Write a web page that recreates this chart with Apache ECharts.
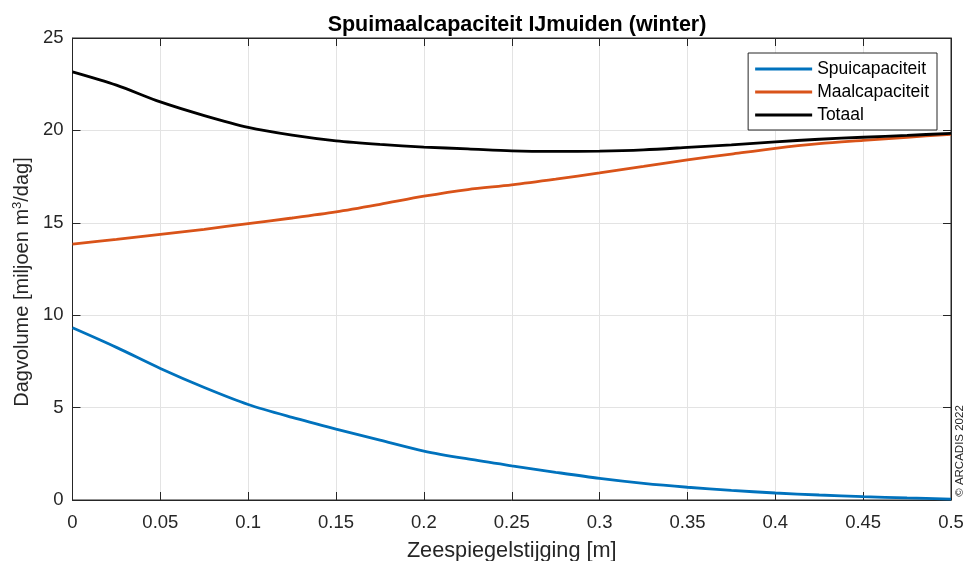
<!DOCTYPE html>
<html><head><meta charset="utf-8">
<script src="https://cdn.jsdelivr.net/npm/echarts@6/dist/echarts.min.js"></script>
<style>html,body{margin:0;padding:0;background:#fff}#c{width:966px;height:561px}</style>
</head><body><div id="c"></div>
<script>
const xValues = [0,0.025,0.05,0.075,0.1,0.125,0.15,0.175,0.2,0.225,0.25,0.275,0.3,0.325,0.35,0.375,0.4,0.425,0.45,0.475,0.5];
const spui = [9.32,8.26,7.12,6.09,5.17,4.47,3.84,3.24,2.65,2.22,1.85,1.5,1.17,0.9,0.69,0.52,0.38,0.27,0.18,0.11,0.05];
const maal = [13.85,14.1,14.37,14.65,14.96,15.26,15.59,16.0,16.44,16.8,17.05,17.36,17.7,18.05,18.4,18.72,19.03,19.28,19.46,19.63,19.79];
const totaal = [23.17,22.45,21.54,20.8,20.16,19.74,19.43,19.24,19.1,19.0,18.89,18.86,18.88,18.95,19.08,19.22,19.38,19.52,19.63,19.73,19.84];
const xTicks = [0,0.05,0.1,0.15,0.2,0.25,0.3,0.35,0.4,0.45,0.5];
const yTicks = [0,5,10,15,20,25];

const FONT = 'Liberation Sans, Arial, sans-serif';
const AX = '#262626';
const chart = echarts.init(document.getElementById('c'));
const pair = a => xValues.map((x,i)=>[x,a[i]]);
const mkSeries = (name, data, color) => ({
  name, type:'line', data: pair(data), smooth:0.3, showSymbol:false, symbol:'none',
  lineStyle:{color, width:2.8}, itemStyle:{color}, xAxisIndex:0, yAxisIndex:0, z:3
});
chart.setOption({
  animation:false,
  backgroundColor:'#fff',
  title:{text:'Spuimaalcapaciteit IJmuiden (winter)', left:512, top:9, textAlign:'center',
    textStyle:{fontFamily:FONT, fontSize:21.5, fontWeight:'bold', color:'#000'}},
  grid:{left:72.5, right:15, top:38, bottom:61, show:true, borderColor:AX, borderWidth:1,
    backgroundColor:'transparent', containLabel:false, outerBoundsMode:'none'},
  legend:{
    right:29, top:53, orient:'vertical', backgroundColor:'#fff', borderColor:'#262626', borderWidth:1,
    padding:[6,8,5,7], itemGap:3, itemWidth:57, itemHeight:3,
    icon:'rect',
    textStyle:{fontFamily:FONT, fontSize:17.5, color:'#000', lineHeight:20},
    data:['Spuicapaciteit','Maalcapaciteit','Totaal']
  },
  xAxis:[{
    type:'value', min:0, max:0.5, interval:0.05,
    name:'Zeespiegelstijging [m]', nameLocation:'middle', nameGap:40,
    nameTextStyle:{fontFamily:FONT, fontSize:21.7, color:AX},
    axisLine:{show:true, onZero:false, lineStyle:{color:AX}},
    axisTick:{show:true, inside:true, length:8, lineStyle:{color:AX}},
    axisLabel:{fontFamily:FONT, fontSize:18.5, color:AX, margin:13},
    splitLine:{show:true, lineStyle:{color:'#e3e3e3', width:1}}
  },{
    type:'value', min:0, max:0.5, interval:0.05, position:'top',
    axisLine:{show:true, onZero:false, lineStyle:{color:AX}},
    axisTick:{show:true, inside:true, length:8, lineStyle:{color:AX}},
    axisLabel:{show:false}, splitLine:{show:false}
  }],
  yAxis:[{
    type:'value', min:0, max:25, interval:5, position:'left',
    name:'Dagvolume [miljoen m{sup|3}/dag]', nameLocation:'middle', nameGap:30, nameRotate:90,
    nameTextStyle:{fontFamily:FONT, fontSize:20, color:AX, padding:[0,26,0,0],
      rich:{sup:{fontFamily:FONT, fontSize:13, color:AX, verticalAlign:'top', padding:[0,0,10,0]}}},
    axisLine:{show:true, onZero:false, lineStyle:{color:AX}},
    axisTick:{show:true, inside:true, length:8, lineStyle:{color:AX}},
    axisLabel:{fontFamily:FONT, fontSize:18.5, color:AX, margin:9},
    splitLine:{show:true, lineStyle:{color:'#e3e3e3', width:1}}
  },{
    type:'value', min:0, max:25, interval:5, position:'right',
    axisLine:{show:true, onZero:false, lineStyle:{color:AX}},
    axisTick:{show:true, inside:true, length:8, lineStyle:{color:AX}},
    axisLabel:{show:false}, splitLine:{show:false}
  }],
  series:[
    mkSeries('Spuicapaciteit', spui, '#0072BD'),
    mkSeries('Maalcapaciteit', maal, '#D95319'),
    mkSeries('Totaal', totaal, '#000000')
  ],
  graphic:[{
    type:'text', x:960, y:451, rotation:Math.PI/2,
    style:{text:'© ARCADIS 2022', fontFamily:FONT, fontSize:11.5, fill:'#262626', textAlign:'center', textVerticalAlign:'middle'}
  }]
});
</script></body></html>
